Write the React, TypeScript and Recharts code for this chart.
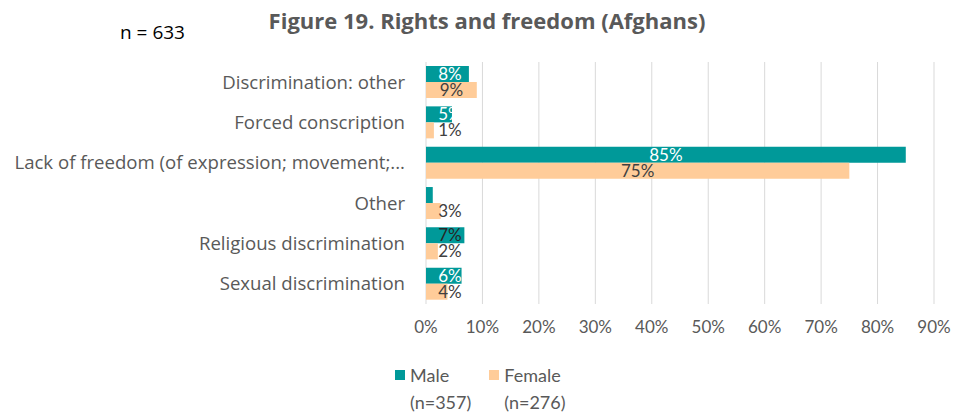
import React from "react";
import {
  BarChart,
  Bar,
  XAxis,
  YAxis,
  CartesianGrid,
  LabelList,
} from "recharts";

const categories = [
  "Discrimination: other",
  "Forced conscription",
  "Lack of freedom (of expression; movement;...",
  "Other",
  "Religious discrimination",
  "Sexual discrimination",
];
const maleValues = [0.076, 0.046, 0.85, 0.012, 0.068, 0.063];
const femaleValues = [0.09, 0.014, 0.75, 0.026, 0.021, 0.038];
const xTicks = [0, 0.1, 0.2, 0.3, 0.4, 0.5, 0.6, 0.7, 0.8, 0.9];

const data = categories.map((name, i) => ({
  name,
  male: maleValues[i],
  female: femaleValues[i],
}));

const FONT = "Lato, 'Open Sans', sans-serif";
const WIDE = "'Open Sans', Lato, sans-serif";
const MALE = "#009999";
const FEMALE = "#FFCC99";
const GREY = "#595959";

const pct = (v: number) => `${Math.round(v * 100)}%`;

// Excel centres the labels but keeps them clear of the axis
function makeLabel(color: string, darkFor: number[] = []) {
  return (props: any) => {
    const { x, y, width, height, value, index } = props;
    const cx = Math.max(x + width / 2, x + 24);
    return (
      <text
        x={cx}
        y={y + height / 2}
        dy="0.35em"
        textAnchor="middle"
        fontSize={17}
        fontFamily={FONT}
        fill={darkFor.includes(index) ? "#262626" : color}
      >
        {pct(value)}
      </text>
    );
  };
}

function LegendItem({ color, label, n }: { color: string; label: string; n: string }) {
  return (
    <div style={{ display: "flex", alignItems: "flex-start" }}>
      <div style={{ width: 10, height: 10, background: color, marginTop: 8, marginRight: 5 }} />
      <div style={{ fontSize: 18, lineHeight: "27px", color: GREY }}>
        {label}
        <br />
        {n}
      </div>
    </div>
  );
}

export default function App() {
  return (
    <div
      style={{
        position: "fixed",
        left: 0,
        top: 0,
        width: 970,
        height: 419,
        background: "#fff",
        fontFamily: FONT,
      }}
    >
      <div
        style={{
          position: "absolute",
          top: 5,
          left: 0,
          width: 974,
          textAlign: "center",
          fontSize: 22,
          fontWeight: 700,
          fontFamily: WIDE,
          color: GREY,
        }}
      >
        Figure 19. Rights and freedom (Afghans)
      </div>
      <div
        style={{
          position: "absolute",
          top: 19,
          left: 120,
          fontSize: 19,
          fontFamily: WIDE,
          color: "#000",
        }}
      >
        n = 633
      </div>
      <BarChart
        layout="vertical"
        width={970}
        height={419}
        data={data}
        margin={{ top: 62, right: 36, bottom: 75, left: 0 }}
        barCategoryGap="10%"
        barGap={0}
      >
        <CartesianGrid horizontal={false} stroke="#D9D9D9" />
        <XAxis
          type="number"
          domain={[0, 0.9]}
          ticks={xTicks}
          tickFormatter={pct}
          axisLine={false}
          tickLine={false}
          tickSize={0}
          tickMargin={17}
          height={40}
          interval={0}
          tick={{ fill: GREY, fontSize: 17, fontFamily: FONT }}
        />
        <YAxis
          type="category"
          dataKey="name"
          width={426}
          axisLine={false}
          tickLine={false}
          tickSize={0}
          tickMargin={21}
          interval={0}
          tick={{ fill: GREY, fontSize: 18.6, fontFamily: WIDE }}
        />
        <Bar dataKey="male" fill={MALE} isAnimationActive={false}>
          <LabelList dataKey="male" content={makeLabel("#ffffff", [4])} />
        </Bar>
        <Bar dataKey="female" fill={FEMALE} isAnimationActive={false}>
          <LabelList dataKey="female" content={makeLabel("#404040")} />
        </Bar>
      </BarChart>
      <div style={{ position: "absolute", top: 362, left: 395, display: "flex", gap: 18 }}>
        <LegendItem color={MALE} label="Male" n="(n=357)" />
        <LegendItem color={FEMALE} label="Female" n="(n=276)" />
      </div>
    </div>
  );
}
